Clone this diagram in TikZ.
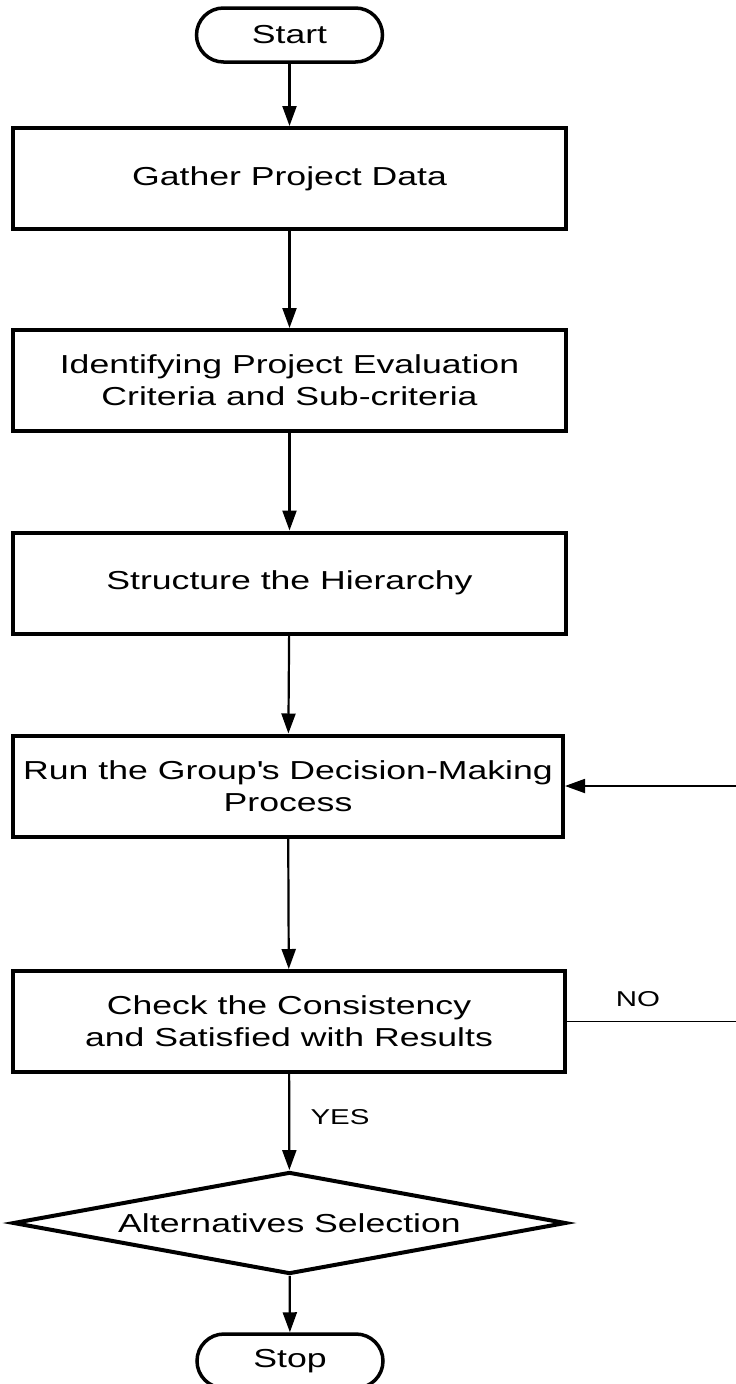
\documentclass[tikz,border=0pt]{standalone}
\usepackage{fontspec}
\setmainfont{Liberation Sans}[FakeStretch=1.37]
\usetikzlibrary{arrows.meta,shapes.geometric}

\begin{document}
\begin{tikzpicture}[x=1pt,y=-1pt,
	stepbox/.style={draw,line width=4pt,rectangle,minimum width=553pt,minimum height=101pt,inner sep=0pt,align=center,font=\fontsize{26}{32}\selectfont},
	term/.style={draw,line width=3.5pt,rectangle,rounded corners=27pt,minimum width=186pt,minimum height=54pt,inner sep=0pt,font=\fontsize{26}{32}\selectfont},
	choice/.style={draw,line width=4pt,diamond,aspect=5.4,minimum width=553pt,minimum height=102pt,inner sep=0pt,font=\fontsize{26}{32}\selectfont},
	flow/.style={line width=2.2pt,-{Triangle[length=20pt,width=14pt]}},
	lbl/.style={font=\fontsize{21.5}{26}\selectfont}]
	\useasboundingbox (0,0) rectangle (736,1384);
	\pgfmathsetmacro{\xMid}{289.5};
%
	\node[term] (start) at (\xMid,35) {Start};
	\node[stepbox] (gather) at (\xMid,178.5) {Gather Project Data};
	\node[stepbox] (ident) at (\xMid,380.5) {Identifying Project Evaluation\\Criteria and Sub-criteria};
	\node[stepbox] (struct) at (\xMid,583) {Structure the Hierarchy};
	\node[stepbox,minimum width=550pt] (run) at (288,786) {Run the Group\textquotesingle s Decision-Making\\Process};
	\node[stepbox,minimum width=552pt] (check) at (289,1021.5) {Check the Consistency\\and Satisfied with Results};
	\node[choice] (select) at (\xMid,1223) {Alternatives Selection};
	\node[term] (stop) at (290,1361) {Stop};
%
	\node[lbl] (no) at (638,999) {NO};
	\node[lbl] (yes) at (340,1117) {YES};
%
	\draw[flow] (start) -- (gather);
	\draw[flow] (gather) -- (ident);
	\draw[flow] (ident) -- (struct);
	\draw[flow] (struct) -- (run);
	\draw[flow] (run) -- (check);
	\draw[flow] (check) -- (select);
	\draw[flow] (select) -- (stop);
	% loop back, its upright part lies past the page edge
	\draw[flow,line width=1.8pt] (check.east) -- ++(200,0) |- (run.east);
\end{tikzpicture}
\end{document}
